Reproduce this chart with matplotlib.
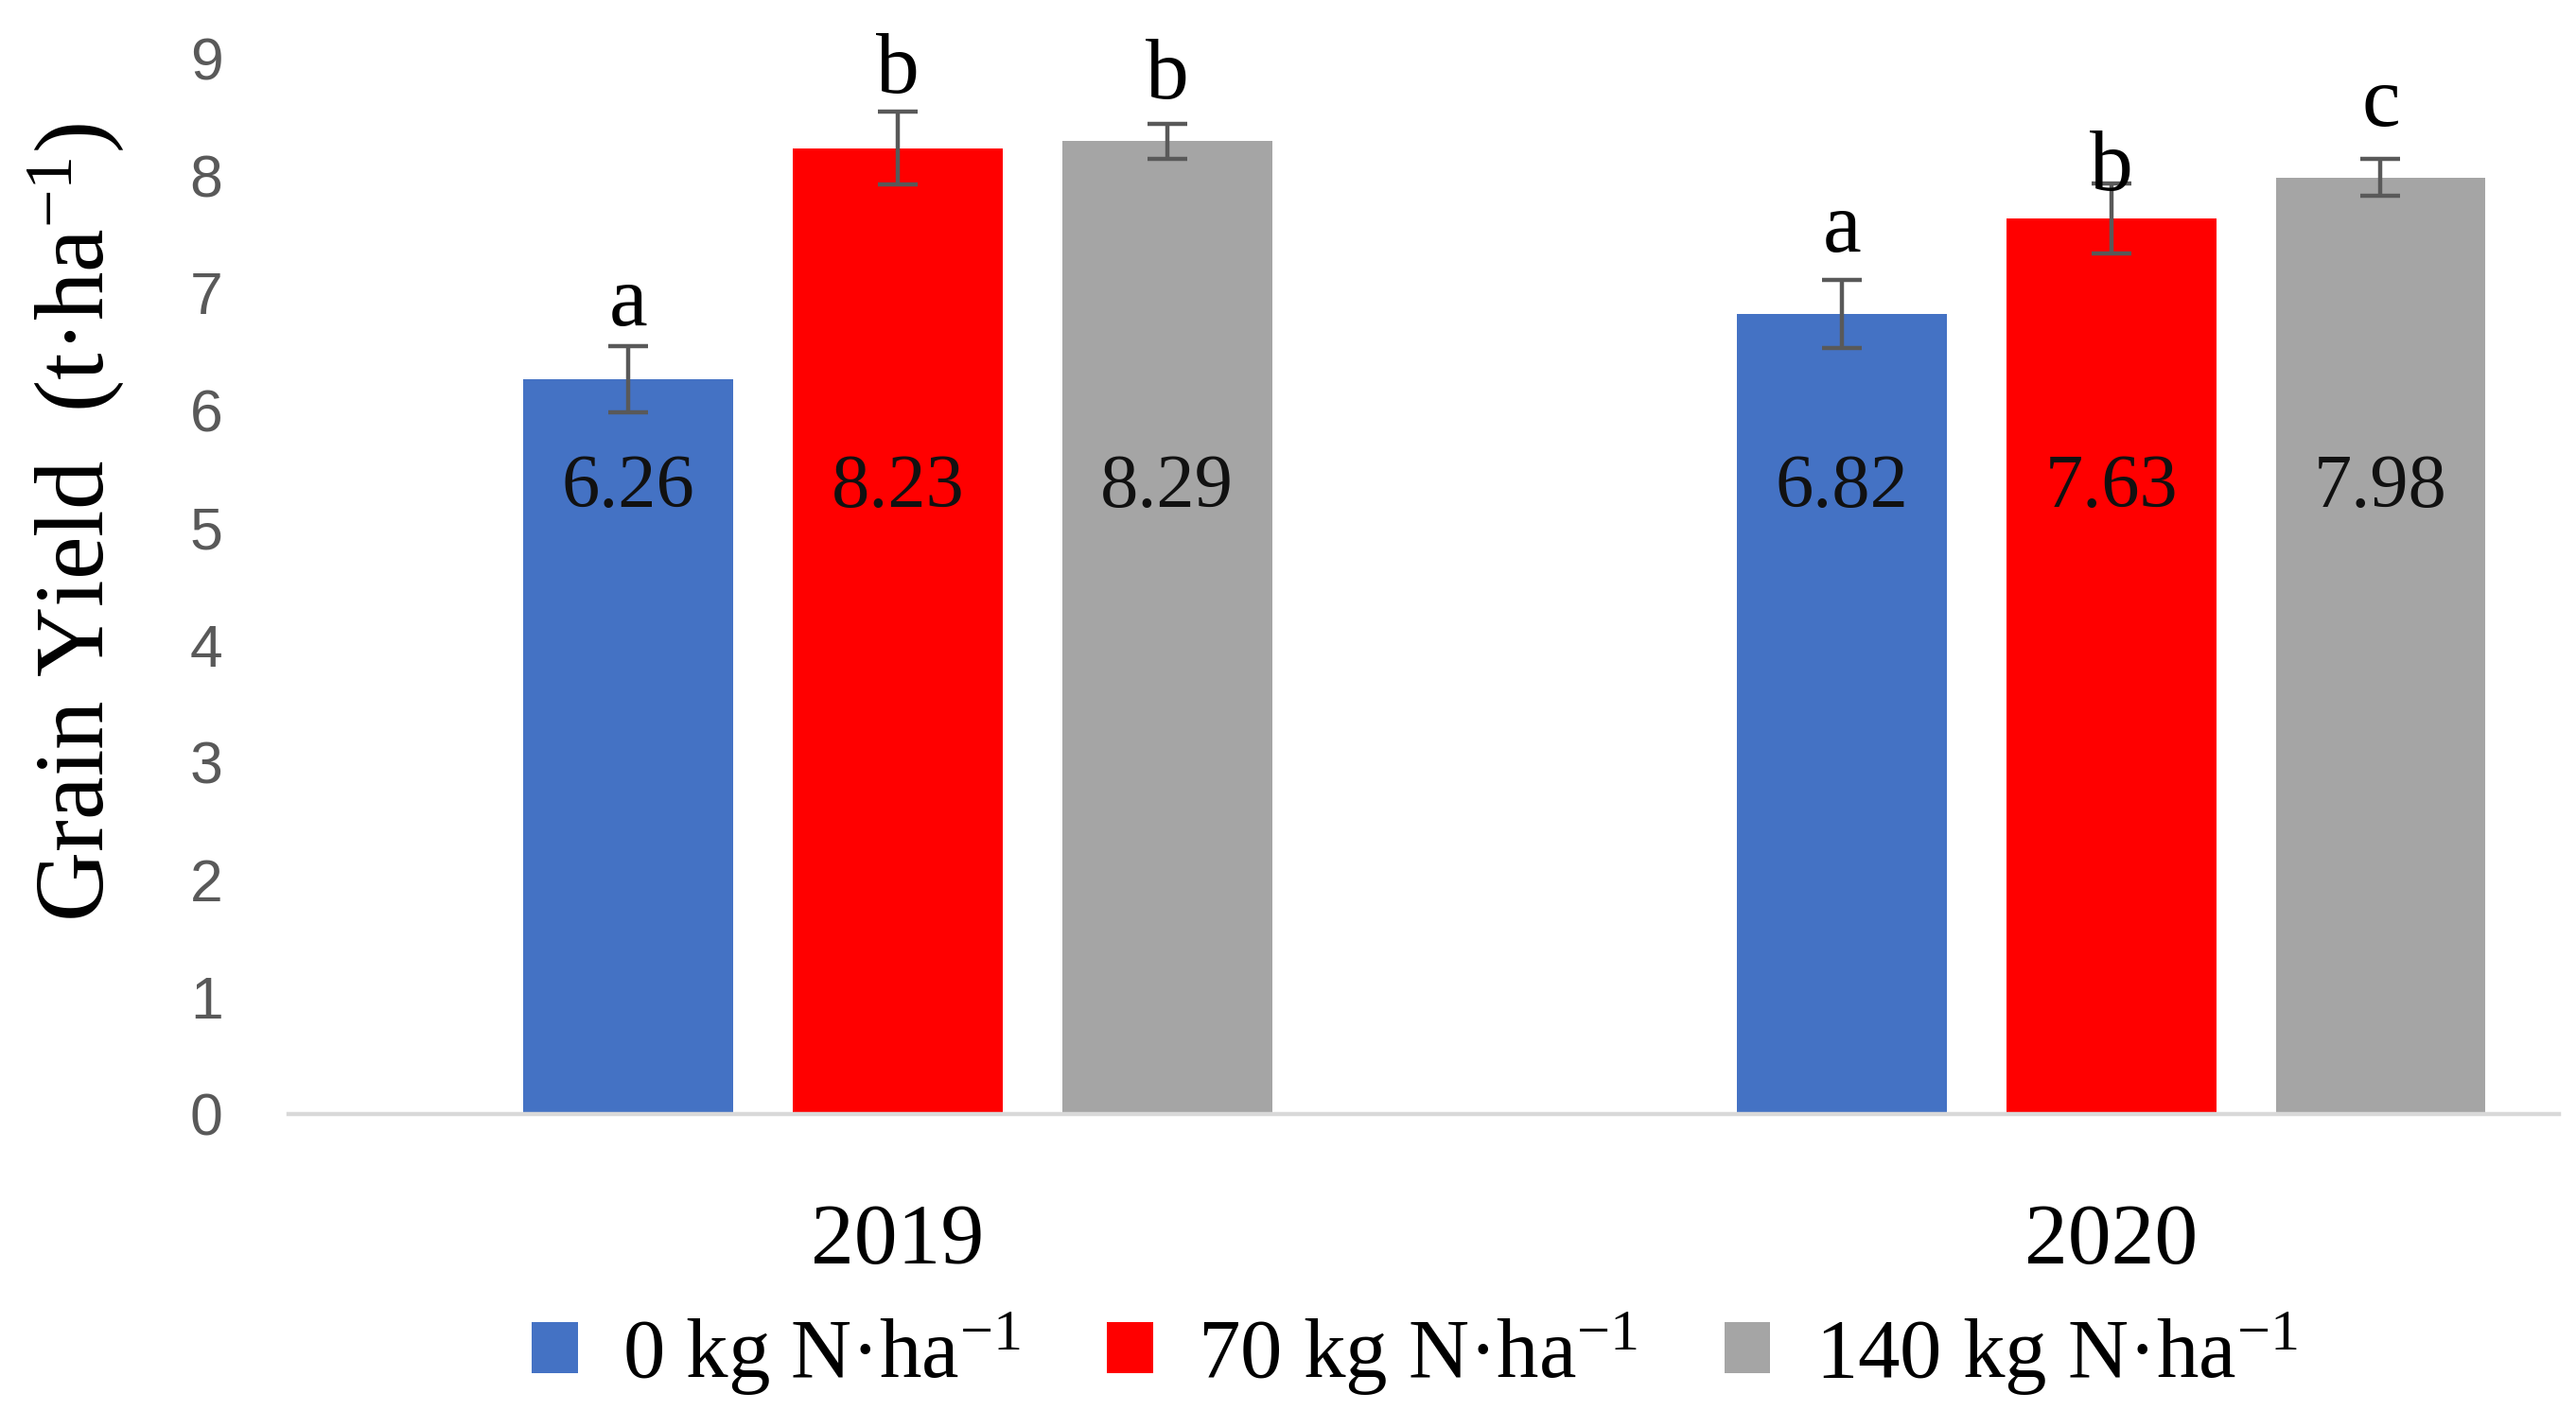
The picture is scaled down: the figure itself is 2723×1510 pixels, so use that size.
import matplotlib
matplotlib.use("Agg")
import matplotlib.pyplot as plt
import numpy as np
from matplotlib.patches import Patch

# data
years = ["2019", "2020"]
treatments = ["0 kg N·ha$^{-1}$", "70 kg N·ha$^{-1}$", "140 kg N·ha$^{-1}$"]
yield_0 = [6.26, 6.82]
yield_70 = [8.23, 7.63]
yield_140 = [8.29, 7.98]
err_0 = [0.28, 0.29]
err_70 = [0.31, 0.30]
err_140 = [0.15, 0.16]
letters_0 = ["a", "a"]
letters_70 = ["b", "b"]
letters_140 = ["b", "c"]
letter_y_0 = [6.72, 7.35]
letter_y_70 = [8.70, 7.87]
letter_y_140 = [8.65, 8.42]
yticks = list(range(0, 10))

colors = ["#4472C4", "#FF0000", "#A5A5A5"]
SERIF = "Liberation Serif"
plt.rcParams["mathtext.fontset"] = "custom"
plt.rcParams["mathtext.rm"] = SERIF
plt.rcParams["mathtext.it"] = SERIF + ":italic"

fig = plt.figure(figsize=(27.23, 15.10), dpi=100)
ax = fig.add_axes([0.112, 0.2199, 0.8814, 0.7397])

x = np.arange(len(years))
width = 0.173
offset = 0.222
series = [yield_0, yield_70, yield_140]
errs = [err_0, err_70, err_140]
letters = [letters_0, letters_70, letters_140]
letter_ys = [letter_y_0, letter_y_70, letter_y_140]

for i, (vals, e, col) in enumerate(zip(series, errs, colors)):
    xs = x + (i - 1) * offset
    ax.bar(xs, vals, width=width, color=col, zorder=2)
    ax.errorbar(xs, vals, yerr=e, fmt="none", ecolor="#595959",
                elinewidth=3.2, capsize=15, capthick=3.2, zorder=3)
    for xi, v, lt, ly in zip(xs, vals, letters[i], letter_ys[i]):
        ax.text(xi, 5.33, f"{v:.2f}", ha="center", va="center",
                fontsize=58, family=SERIF, color="#111111", zorder=4)
        ax.text(xi, ly, lt, ha="center", va="baseline",
                fontsize=66, family=SERIF, color="black", zorder=4)

ax.set_ylim(0, 9)
ax.set_xlim(-0.502, 1.369)
ax.set_yticks(yticks)
ax.set_yticklabels([str(t) for t in yticks], family="Liberation Sans",
                   fontsize=45, color="#595959")
ax.set_xticks(x)
ax.set_xticklabels(years, family=SERIF, fontsize=66, color="black")
ax.tick_params(axis="y", length=0, pad=50)
ax.tick_params(axis="x", length=0, pad=68)

for s in ["top", "right", "left"]:
    ax.spines[s].set_visible(False)
ax.spines["bottom"].set_color("#D9D9D9")
ax.spines["bottom"].set_linewidth(3.2)
ax.spines["bottom"].set_zorder(5)

fig.text(0.0295, 0.634, "Grain Yield  (t·ha$^{-1}$)", rotation=90,
         ha="center", va="center", fontsize=74, family=SERIF)

handles = [Patch(facecolor=c, edgecolor="none") for c in colors]
fig.legend(handles, treatments, loc="center", bbox_to_anchor=(0.549, 0.052),
           ncol=3, frameon=False, prop={"family": SERIF, "size": 64},
           handlelength=0.55, handleheight=0.55, handletextpad=0.53,
           columnspacing=1.03)

fig.savefig("out.png", dpi=100)
